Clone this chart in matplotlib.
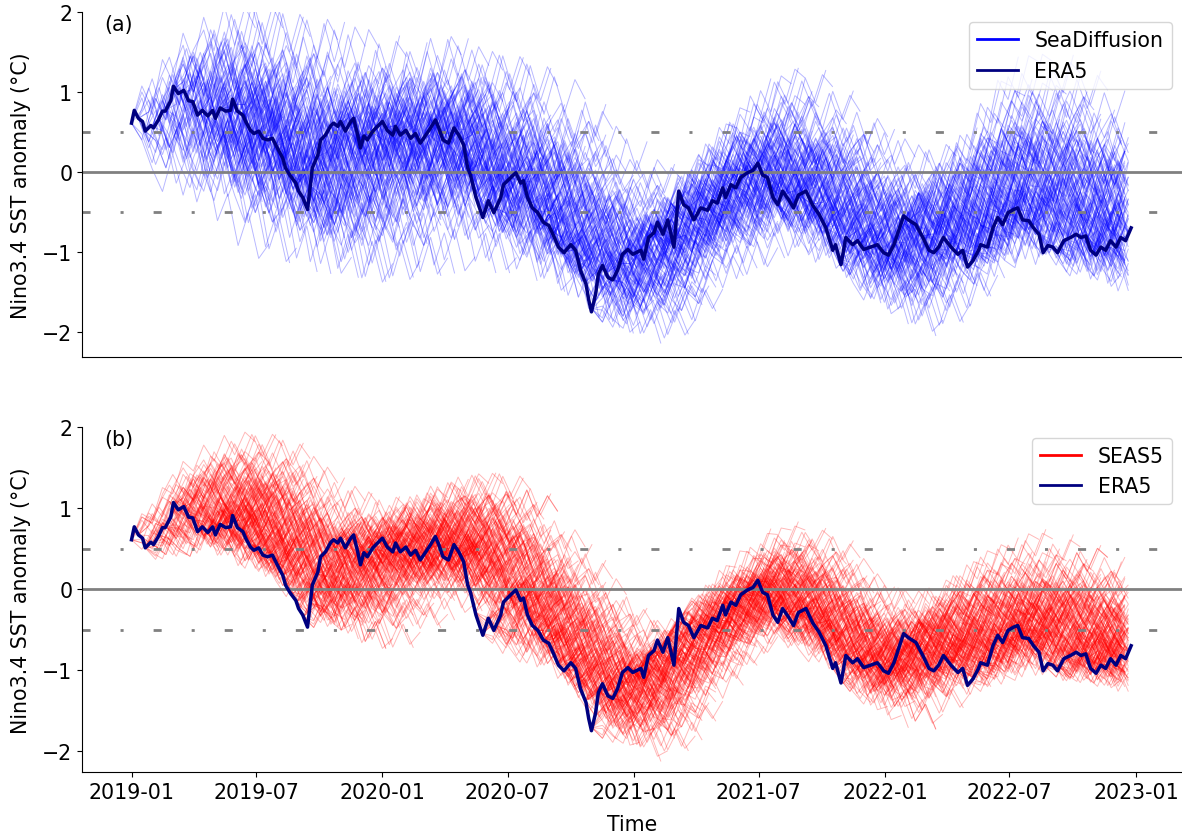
import numpy as np
import matplotlib
matplotlib.use('Agg')
import matplotlib.pyplot as plt
import matplotlib.dates as mdates
from matplotlib.collections import LineCollection
from matplotlib.lines import Line2D

plt.rcParams['font.family'] = ['DejaVu Sans']
plt.rcParams['font.size'] = 14.8

start = np.datetime64('2019-01-01')

# ERA5 Nino3.4 anomaly, days since 2019-01-01
era5_days = [0, 4, 10, 16, 20, 28, 32, 39, 45, 49, 57, 61, 68, 76, 83, 89, 96, 103, 111, 118,
             122, 129, 137, 144, 147, 154, 162, 166, 173, 178, 185, 191, 198, 205, 212, 220, 224,
             231, 239, 243, 249, 256, 263, 271, 275, 282, 290, 294, 300, 304, 311, 319, 323, 329,
             333, 338, 343, 351, 359, 365, 372, 380, 384, 391, 399, 406, 413, 420, 428, 435, 442,
             447, 453, 461, 469, 476, 483, 489, 493, 501, 511, 519, 527, 537, 541, 554, 559, 566,
             570, 576, 583, 591, 599, 607, 614, 621, 629, 639, 646, 653, 661, 665, 669, 675, 679,
             685, 693, 700, 707, 714, 722, 729, 741, 745, 752, 760, 765, 773, 780, 789, 796, 803,
             810, 818, 828, 838, 845, 852, 860, 864, 872, 879, 886, 896, 904, 911, 918, 925, 933,
             940, 947, 956, 963, 970, 981, 991, 1000, 1010, 1020, 1024, 1032, 1039, 1049, 1056,
             1065, 1075, 1085, 1094, 1101, 1109, 1116, 1123, 1130, 1141, 1151, 1160, 1167, 1174,
             1181, 1192, 1202, 1209, 1216, 1224, 1232, 1235, 1245, 1253, 1260, 1267, 1275, 1283,
             1289, 1296, 1305, 1312, 1320, 1326, 1333, 1340, 1347, 1356, 1366, 1374, 1381, 1388,
             1395, 1403, 1410, 1417, 1424, 1432, 1439, 1446, 1454]
era5_vals = [0.61, 0.77, 0.67, 0.63, 0.51, 0.58, 0.55, 0.65, 0.76, 0.76, 0.89, 1.07, 0.98, 1.02,
             0.89, 0.88, 0.71, 0.77, 0.70, 0.77, 0.67, 0.80, 0.76, 0.77, 0.91, 0.76, 0.71, 0.63,
             0.52, 0.48, 0.51, 0.42, 0.40, 0.42, 0.30, 0.17, 0.05, -0.05, -0.14, -0.24, -0.32,
             -0.47, 0.05, 0.21, 0.40, 0.46, 0.58, 0.61, 0.57, 0.63, 0.51, 0.63, 0.67, 0.46, 0.30,
             0.45, 0.40, 0.51, 0.58, 0.63, 0.52, 0.46, 0.57, 0.46, 0.52, 0.42, 0.48, 0.36, 0.46,
             0.55, 0.65, 0.55, 0.40, 0.36, 0.55, 0.46, 0.34, 0.05, -0.04, -0.32, -0.57, -0.36,
             -0.51, -0.32, -0.16, -0.05, -0.01, -0.14, -0.11, -0.32, -0.45, -0.51, -0.63, -0.67,
             -0.80, -0.94, -1.01, -0.91, -0.98, -1.23, -1.40, -1.60, -1.75, -1.53, -1.28, -1.17,
             -1.32, -1.35, -1.23, -1.03, -0.97, -1.03, -0.98, -1.09, -0.82, -0.76, -0.63, -0.78,
             -0.60, -0.94, -0.24, -0.41, -0.45, -0.60, -0.45, -0.48, -0.36, -0.39, -0.20, -0.32,
             -0.16, -0.20, -0.07, -0.01, 0.02, 0.11, -0.04, -0.07, -0.32, -0.41, -0.24, -0.35,
             -0.45, -0.29, -0.24, -0.42, -0.53, -0.70, -0.98, -0.91, -1.16, -0.82, -0.91, -0.86,
             -0.97, -0.94, -0.91, -1.01, -1.04, -0.91, -0.73, -0.55, -0.60, -0.66, -0.82, -0.98,
             -1.01, -0.94, -0.82, -0.94, -1.03, -0.98, -1.19, -1.11, -0.98, -0.91, -0.94, -0.70,
             -0.57, -0.66, -0.51, -0.47, -0.45, -0.60, -0.61, -0.70, -0.78, -1.01, -0.92, -0.94,
             -1.01, -0.86, -0.82, -0.78, -0.82, -0.80, -0.98, -1.04, -0.94, -0.98, -0.86, -0.94,
             -0.82, -0.86, -0.70]

# ensemble mean at 3-month and 6-month lead, and spread, per init month 2019-01 .. 2022-12
seadiff_mid = [0.7, 0.75, 0.7, 0.55, 0.45, 0.3, 0.15, 0.0, 0.0, 0.3, 0.4, 0.35,
               0.35, 0.25, 0.2, 0.1, -0.1, -0.5, -0.5, -0.8, -1.1, -1.3, -1.1, -0.8,
               -0.5, -0.3, -0.1, 0.0, 0.0, 0.0, -0.2, -0.4, -0.6, -0.9, -1.0, -0.9,
               -0.5, -0.3, -0.2, -0.1, 0.0, -0.1, -0.2, -0.4, -0.4, -0.5, -0.6, -0.6]
seadiff_end = [0.45, 0.45, 0.35, 0.3, 0.3, 0.2, 0.2, 0.15, 0.15, 0.2, 0.2, 0.1,
               0.1, 0.0, -0.1, -0.2, -0.4, -0.7, -0.8, -1.0, -1.0, -0.9, -0.5, -0.2,
               0.0, 0.1, 0.2, 0.1, -0.1, -0.4, -0.6, -0.8, -0.9, -0.8, -0.6, -0.3,
               0.2, 0.3, 0.3, 0.15, 0.0, -0.2, -0.3, -0.4, -0.4, -0.5, -0.5, -0.5]
seadiff_sd = [0.75, 0.75, 0.75, 0.75, 0.75, 0.75, 0.75, 0.7, 0.7, 0.7, 0.7, 0.65,
              0.65, 0.65, 0.65, 0.65, 0.65, 0.6, 0.6, 0.55, 0.5, 0.5, 0.5, 0.5,
              0.55, 0.55, 0.55, 0.55, 0.55, 0.55, 0.55, 0.55, 0.55, 0.55, 0.55, 0.55,
              0.6, 0.6, 0.6, 0.6, 0.6, 0.6, 0.6, 0.6, 0.6, 0.6, 0.6, 0.6]

seas5_mid = [1.1, 1.15, 1.1, 0.95, 0.8, 0.5, 0.3, 0.1, 0.1, 0.4, 0.55, 0.6,
             0.7, 0.65, 0.5, 0.3, -0.1, -0.5, -0.5, -0.9, -1.2, -1.4, -1.2, -0.9,
             -0.6, -0.4, -0.2, 0.0, 0.05, -0.1, -0.3, -0.6, -0.7, -0.9, -0.9, -0.7,
             -0.5, -0.4, -0.4, -0.4, -0.4, -0.3, -0.4, -0.5, -0.6, -0.6, -0.6, -0.6]
seas5_end = [1.1, 1.0, 0.85, 0.6, 0.4, 0.25, 0.2, 0.2, 0.3, 0.45, 0.55, 0.6,
             0.55, 0.4, 0.15, -0.2, -0.5, -0.8, -1.1, -1.3, -1.2, -1.0, -0.6, -0.3,
             0.0, 0.1, 0.1, 0.0, -0.2, -0.5, -0.8, -0.9, -0.9, -0.7, -0.5, -0.3,
             -0.2, -0.1, -0.1, -0.2, -0.3, -0.4, -0.5, -0.5, -0.5, -0.5, -0.5, -0.5]
seas5_sd = [0.4, 0.42, 0.45, 0.45, 0.45, 0.45, 0.45, 0.45, 0.4, 0.4, 0.4, 0.4,
            0.4, 0.45, 0.45, 0.45, 0.45, 0.45, 0.45, 0.4, 0.4, 0.4, 0.4, 0.4,
            0.35, 0.35, 0.35, 0.35, 0.4, 0.4, 0.4, 0.4, 0.4, 0.4, 0.4, 0.4,
            0.4, 0.4, 0.4, 0.4, 0.4, 0.4, 0.4, 0.4, 0.4, 0.4, 0.4, 0.4]

# member deviations (in units of spread) at 15-day lead steps
member_shapes = [
    [0.5, 0.1, 0.7, 0.3, 1.0, 0.4, 1.1, 0.6, 1.4, 0.9, 1.5, 1.2],
    [-0.5, 0.0, -0.7, -0.2, -1.0, -0.6, -0.3, -1.1, -0.6, -1.4, -0.9, -1.5],
    [0.2, 0.7, 0.1, 0.8, 1.2, 0.5, 0.9, 0.2, 0.7, 0.1, 0.6, 0.3],
    [-0.3, 0.3, -0.4, -0.8, 0.0, -0.3, 0.5, -0.1, 0.6, 1.0, 0.4, 1.1],
    [0.6, 0.2, 1.0, 0.6, 1.4, 0.9, 1.7, 1.2, 2.0, 1.4, 2.1, 1.8],
    [-0.2, -0.8, -0.3, -1.1, -0.6, -1.4, -0.9, -1.7, -1.1, -2.0, -1.4, -2.1],
    [0.3, -0.4, 0.2, -0.5, 0.1, 0.6, -0.1, -0.6, 0.2, -0.4, 0.4, -0.2],
    [0.4, 0.0, 0.5, -0.3, -0.7, -0.1, -0.8, -0.3, -1.0, -1.4, -0.8, -1.2],
    [-0.4, 0.2, 0.5, -0.1, 0.7, 0.2, 0.9, 1.3, 0.6, 1.1, 1.5, 0.9],
    [0.4, -0.2, -0.5, 0.2, -0.4, -0.8, -0.2, 0.3, 0.7, 0.0, 0.6, 0.1],
    [-0.2, -0.7, -0.1, -0.6, 0.0, -0.9, -1.2, -0.5, -0.1, -0.8, -0.2, -0.9],
    [0.1, 0.6, 1.0, 0.4, -0.1, 0.7, 1.1, 0.5, 1.0, 0.4, 0.0, 0.6],
    [-0.3, -0.8, -1.2, -0.6, -1.3, -0.7, -0.2, -0.9, -0.4, 0.0, -0.7, -0.3],
    [0.1, 0.5, -0.1, 0.5, -0.2, -0.5, 0.2, 0.6, -0.2, 0.4, -0.3, 0.3],
    [0.5, 0.1, 0.8, 1.2, 0.5, 0.0, 0.7, 0.2, -0.3, 0.4, -0.4, 0.1],
    [-0.5, -0.1, -0.7, -0.1, 0.3, -0.4, -0.9, -0.2, -1.0, -0.4, -1.1, -0.6],
]

t0 = mdates.date2num(start)
month_days = (np.arange('2019-01', '2023-01', dtype='datetime64[M]').astype('datetime64[D]')
              - start).astype(float) + 15
lead_days = 15 * np.arange(1, 13)
init_days = np.arange(0, 1451, 10)
last_day = era5_days[-1]
n_shapes = len(member_shapes)


def forecast_lines(mid_tab, end_tab, sd_tab, n_members):
    segs = []
    k = np.arange(1, 13)
    for i, d0 in enumerate(init_days):
        v0 = np.interp(d0, era5_days, era5_vals)
        mid = np.interp(d0, month_days, mid_tab)
        end = np.interp(d0, month_days, end_tab)
        sd = np.interp(d0, month_days, sd_tab)
        mean = np.where(k <= 6, v0 + (mid - v0) * k / 6, mid + (end - mid) * (k - 6) / 6)
        for j in range(n_members):
            shape = np.array(member_shapes[(7 * i + 2 * j) % n_shapes])
            sgn = 1 if (3 * i + j) % 5 < 3 else -1
            days = np.concatenate([[d0], d0 + lead_days])
            vals = np.concatenate([[v0], mean + sgn * sd * shape])
            keep = days <= last_day
            if keep.sum() < 2:
                continue
            segs.append(np.column_stack([t0 + days[keep], vals[keep]]))
    return segs


fig, axes = plt.subplots(2, 1, figsize=(11.82, 8.37), dpi=100)
fig.subplots_adjust(left=0.0694, right=1.0, top=0.9845, bottom=0.0765, hspace=0.205)

panels = [
    (axes[0], seadiff_mid, seadiff_end, seadiff_sd, 7, 'blue', 'SeaDiffusion', '(a)', -2.31),
    (axes[1], seas5_mid, seas5_end, seas5_sd, 9, 'red', 'SEAS5', '(b)', -2.26),
]

for ax, mid_tab, end_tab, sd_tab, n_mem, col, name, tag, ybot in panels:
    lc = LineCollection(forecast_lines(mid_tab, end_tab, sd_tab, n_mem), colors=col,
                        linewidths=0.7, alpha=0.28, zorder=1)
    ax.add_collection(lc)
    ax.axhline(0, color='gray', lw=2, zorder=2)
    for h in (0.5, -0.5):
        ax.axhline(h, color='gray', lw=2, linestyle=(0, (2.9, 10.8, 1.1, 10.8)), zorder=2)
    ax.plot(t0 + np.array(era5_days), era5_vals, color='navy', lw=2.5, zorder=3)

    ax.set_xlim(t0 - 72, t0 + 1528)
    ax.set_ylim(ybot, 2.0)
    ax.set_yticks([-2, -1, 0, 1, 2])
    ax.set_ylabel('Nino3.4 SST anomaly (°C)', labelpad=8)
    ax.spines['top'].set_visible(False)
    ax.spines['right'].set_visible(False)
    ax.xaxis.set_major_locator(mdates.MonthLocator(bymonth=[1, 7]))
    ax.xaxis.set_major_formatter(mdates.DateFormatter('%Y-%m'))
    ax.text(0.02, 0.965, tag, transform=ax.transAxes, va='center', ha='left')
    handles = [Line2D([], [], color=col, lw=2), Line2D([], [], color='navy', lw=2)]
    ax.legend(handles, [name, 'ERA5'], loc='upper right')

axes[0].tick_params(axis='x', bottom=False, labelbottom=False)
axes[1].set_xlabel('Time', labelpad=9)

fig.savefig('out.png', dpi=100)
